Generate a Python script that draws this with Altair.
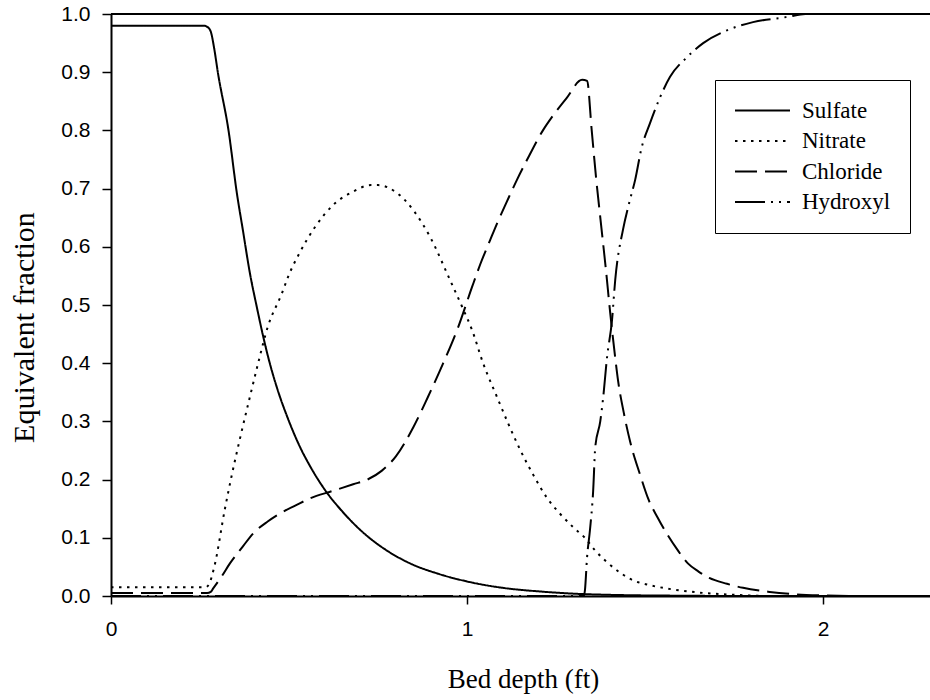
import altair as alt
import pandas as pd

# ---- data ----
sulfate_x = [0.0, 0.26, 0.27, 0.28, 0.29, 0.30, 0.33, 0.354, 0.37, 0.39, 0.41, 0.427, 0.445, 0.466,
             0.50, 0.53, 0.56, 0.60, 0.65, 0.71, 0.77, 0.84, 0.92, 1.00, 1.10, 1.20, 1.30, 1.40,
             1.60, 1.80, 2.30]
sulfate_y = [0.980, 0.980, 0.978, 0.970, 0.940, 0.900, 0.800, 0.690, 0.630, 0.555, 0.495, 0.447,
             0.402, 0.358, 0.300, 0.257, 0.222, 0.183, 0.145, 0.108, 0.080, 0.056, 0.038, 0.025,
             0.014, 0.008, 0.004, 0.002, 0.0005, 0.0, 0.0]

nitrate_x = [0.0, 0.265, 0.275, 0.29, 0.32, 0.34, 0.362, 0.39, 0.414, 0.44, 0.48, 0.497, 0.53,
             0.573, 0.624, 0.677, 0.73, 0.75, 0.80, 0.85, 0.896, 0.952, 0.986, 1.014, 1.045, 1.084,
             1.115, 1.15, 1.186, 1.225, 1.26, 1.30, 1.331, 1.36, 1.393, 1.43, 1.466, 1.51, 1.56,
             1.65, 1.75, 1.85, 2.30]
nitrate_y = [0.015, 0.015, 0.020, 0.050, 0.150, 0.210, 0.270, 0.342, 0.402, 0.462, 0.520, 0.548,
             0.590, 0.634, 0.672, 0.694, 0.706, 0.706, 0.694, 0.662, 0.617, 0.543, 0.497, 0.457,
             0.400, 0.342, 0.297, 0.250, 0.208, 0.168, 0.142, 0.117, 0.100, 0.078, 0.058, 0.040,
             0.027, 0.019, 0.013, 0.006, 0.002, 0.0, 0.0]

chloride_x = [0.0, 0.27, 0.28, 0.287, 0.31, 0.334, 0.37, 0.40, 0.44, 0.475, 0.52, 0.56, 0.62, 0.68,
              0.72, 0.76, 0.80, 0.849, 0.89, 0.933, 0.975, 1.014, 1.037, 1.065, 1.084, 1.112, 1.14,
              1.168, 1.213, 1.242, 1.28, 1.323, 1.337, 1.35, 1.362, 1.375, 1.39, 1.402, 1.414,
              1.424, 1.44, 1.458, 1.485, 1.51, 1.535, 1.56, 1.59, 1.62, 1.65, 1.68, 1.73, 1.775,
              1.85, 1.92, 2.0, 2.1, 2.3]
chloride_y = [0.005, 0.005, 0.007, 0.013, 0.033, 0.056, 0.085, 0.108, 0.128, 0.142, 0.156, 0.168,
              0.180, 0.192, 0.200, 0.215, 0.240, 0.290, 0.342, 0.400, 0.462, 0.531, 0.570, 0.612,
              0.640, 0.678, 0.715, 0.749, 0.800, 0.826, 0.856, 0.887, 0.885, 0.800, 0.720, 0.645,
              0.560, 0.486, 0.420, 0.370, 0.315, 0.265, 0.210, 0.165, 0.135, 0.108, 0.080, 0.056,
              0.042, 0.031, 0.021, 0.014, 0.007, 0.003, 0.001, 0.0, 0.0]

hydroxyl_x = [0.0, 1.328, 1.331, 1.337, 1.345, 1.354, 1.36, 1.374, 1.382, 1.393, 1.407, 1.416,
              1.438, 1.455, 1.472, 1.49, 1.514, 1.542, 1.57, 1.618, 1.663, 1.73, 1.803, 1.90,
              1.95, 2.3]
hydroxyl_y = [0.0, 0.0, 0.010, 0.067, 0.113, 0.180, 0.256, 0.300, 0.340, 0.410, 0.474, 0.543,
              0.630, 0.675, 0.715, 0.770, 0.813, 0.857, 0.892, 0.926, 0.950, 0.972, 0.986, 0.995,
              1.0, 1.0]

ions = ["Sulfate", "Nitrate", "Chloride", "Hydroxyl"]
x_ticks = [0, 1, 2]
y_ticks = [0.0, 0.1, 0.2, 0.3, 0.4, 0.5, 0.6, 0.7, 0.8, 0.9, 1.0]
frame_top = [1.0]

rows = []
for name, xs, ys in [("Sulfate", sulfate_x, sulfate_y), ("Nitrate", nitrate_x, nitrate_y),
                     ("Chloride", chloride_x, chloride_y), ("Hydroxyl", hydroxyl_x, hydroxyl_y)]:
    for i, (xv, yv) in enumerate(zip(xs, ys)):
        rows.append({"ion": name, "depth": xv, "frac": yv, "i": i})
df = pd.DataFrame(rows)

dash_styles = [[1, 0], [2.5, 5.5], [22, 8], [30, 6, 2, 6, 2, 6]]

x_axis = alt.Axis(values=x_ticks, format="d", tickSize=8, tickWidth=1.5, tickColor="black",
                  domainColor="black", domainWidth=2, labelFont="Liberation Sans",
                  labelFontSize=21, labelColor="black", labelPadding=14, labelFlush=False,
                  grid=False, title="Bed depth (ft)", titleFont="Liberation Serif",
                  titleFontSize=27, titleFontWeight="normal", titleColor="black",
                  titleX=412, titleY=91, titleBaseline="alphabetic", titleAlign="center")
y_axis = alt.Axis(values=y_ticks, format=".1f", tickSize=9, tickWidth=1.5, tickColor="black",
                  domainColor="black", domainWidth=2, labelFont="Liberation Sans",
                  labelFontSize=21, labelColor="black", labelPadding=12, grid=False,
                  title="Equivalent fraction", titleFont="Liberation Serif", titleFontSize=30,
                  titleFontWeight="normal", titleColor="black", titleAngle=270,
                  titleX=-78, titleY=313, titleBaseline="alphabetic", titleAlign="center")

lines = alt.Chart(df).mark_line(strokeWidth=2, color="black", clip=True,
                                interpolate="monotone").encode(
    x=alt.X("depth:Q", scale=alt.Scale(domain=[0, 2.3], nice=False, zero=False), axis=x_axis),
    y=alt.Y("frac:Q", scale=alt.Scale(domain=[0, 1], nice=False), axis=y_axis),
    strokeDash=alt.StrokeDash(
        "ion:N",
        scale=alt.Scale(domain=ions, range=dash_styles),
        legend=alt.Legend(title=None, orient="none", legendX=604, legendY=66,
                          symbolType="stroke", symbolSize=3025, symbolStrokeWidth=2,
                          symbolStrokeColor="black", labelFont="Liberation Serif",
                          labelFontSize=23, labelColor="black", labelOffset=11,
                          clipHeight=23, strokeColor="black", fillColor="white",
                          padding=19, rowPadding=6.5),
    ),
    order="i:Q",
)

top = alt.Chart(pd.DataFrame({"frac": frame_top})).mark_rule(color="black", strokeWidth=2).encode(
    y=alt.Y("frac:Q")
)

chart = alt.layer(lines, top).properties(
    width=819, height=582,
    autosize=alt.AutoSizeParams(type="none"),
    padding={"left": 111, "top": 14, "right": 0, "bottom": 104},
    background="white",
).configure_view(stroke=None)

chart.save("out.html", embed_options={"renderer": "svg", "actions": False})
